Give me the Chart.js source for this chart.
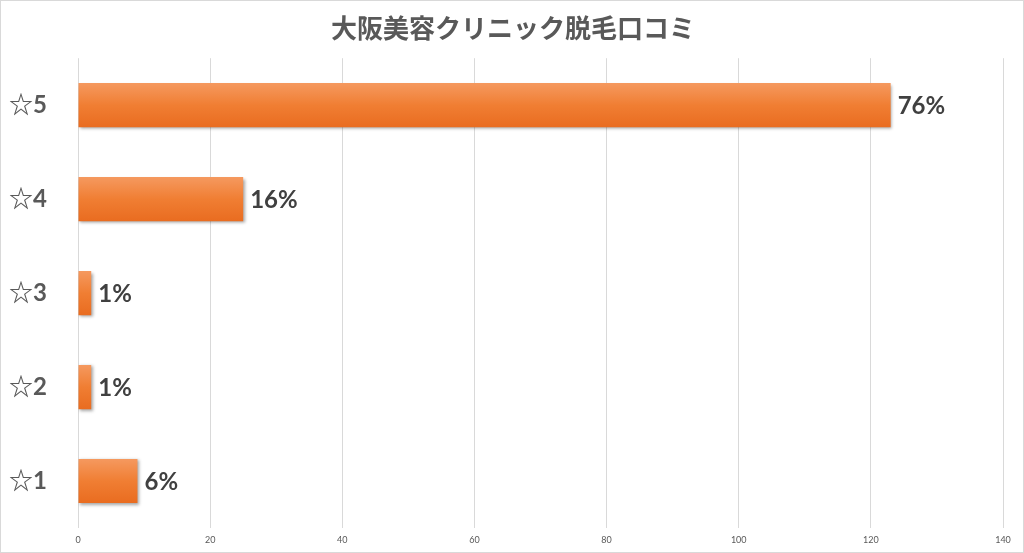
<!DOCTYPE html>
<html>
<head>
<meta charset="utf-8">
<script src="https://cdn.jsdelivr.net/npm/chart.js@4"></script>
<style>
html,body{margin:0;padding:0;background:#fff;}
#wrap{position:relative;width:1024px;height:553px;box-sizing:border-box;border:1px solid #d9d9d9;}
canvas{display:block;}
</style>
</head>
<body>
<div id="wrap"><canvas id="c" width="1022" height="551"></canvas></div>
<script>
const chartTitle = '大阪美容クリニック脱毛口コミ';
const categories = ['☆5', '☆4', '☆3', '☆2', '☆1'];
const counts = [123, 25, 2, 2, 9];
const xTicks = [0, 20, 40, 60, 80, 100, 120, 140];

const total = counts.reduce((a, b) => a + b, 0);
const percentLabels = counts.map(v => Math.round(v / total * 100) + '%');

const styling = {
  id: 'styling',
  afterLayout(chart) {
    const t = chart.titleBlock;
    if (t) { t.left = 2; t.right = chart.width; }
  },
  beforeDatasetDraw(chart) {
    const ctx = chart.ctx;
    const meta = chart.getDatasetMeta(0);
    meta.data.forEach(el => {
      const h = el.height;
      const g = ctx.createLinearGradient(0, el.y - h / 2, 0, el.y + h / 2);
      g.addColorStop(0, '#F5995F');
      g.addColorStop(0.5, '#F07E33');
      g.addColorStop(1, '#E96C20');
      el.options = Object.assign({}, el.options, { backgroundColor: g });
    });
    ctx.save();
    ctx.shadowColor = 'rgba(0,0,0,0.35)';
    ctx.shadowBlur = 3;
    ctx.shadowOffsetX = 1.5;
    ctx.shadowOffsetY = 1.5;
  },
  afterDatasetDraw(chart) {
    chart.ctx.restore();
  },
  afterDatasetsDraw(chart) {
    const ctx = chart.ctx;
    const meta = chart.getDatasetMeta(0);
    ctx.save();
    ctx.font = 'bold 24px Lato, "Noto Sans CJK JP", sans-serif';
    ctx.fillStyle = '#404040';
    ctx.textAlign = 'left';
    ctx.textBaseline = 'middle';
    meta.data.forEach((el, i) => {
      ctx.fillText(percentLabels[i], el.x + 7, el.y + 1);
    });
    ctx.restore();
  }
};

new Chart(document.getElementById('c'), {
  type: 'bar',
  data: {
    labels: categories,
    datasets: [{
      data: counts,
      backgroundColor: () => '#F07E33',
      borderWidth: 0,
      barPercentage: 0.47,
      categoryPercentage: 1.0
    }]
  },
  options: {
    indexAxis: 'y',
    responsive: false,
    animation: false,
    devicePixelRatio: 1,
    layout: { padding: { top: 0, left: 8, right: 20, bottom: 4 } },
    plugins: {
      legend: { display: false },
      tooltip: { enabled: false },
      title: {
        display: true,
        text: chartTitle,
        color: '#595959',
        font: { family: '"Noto Sans CJK JP", sans-serif', size: 26, weight: 'bold', lineHeight: 1.2 },
        padding: { top: 12, bottom: 14 }
      }
    },
    scales: {
      x: {
        type: 'linear',
        min: 0,
        max: 140,
        afterBuildTicks(scale) { scale.ticks = xTicks.map(v => ({ value: v })); },
        afterFit(scale) { scale.height = 20; },
        grid: { display: true, color: '#d9d9d9', drawTicks: false, lineWidth: 1 },
        border: { display: false },
        ticks: { color: '#595959', font: { family: 'Lato, sans-serif', size: 9 }, padding: 7 }
      },
      y: {
        type: 'category',
        offset: true,
        grid: { display: false, drawTicks: false },
        border: { display: false },
        afterFit(scale) { scale.width = 69; },
        ticks: {
          color: '#595959',
          padding: 0,
          crossAlign: 'far',
          font: { family: 'Lato, "Noto Sans CJK JP", sans-serif', size: 24, weight: 'bold' }
        }
      }
    }
  },
  plugins: [styling]
});
</script>
</body>
</html>
